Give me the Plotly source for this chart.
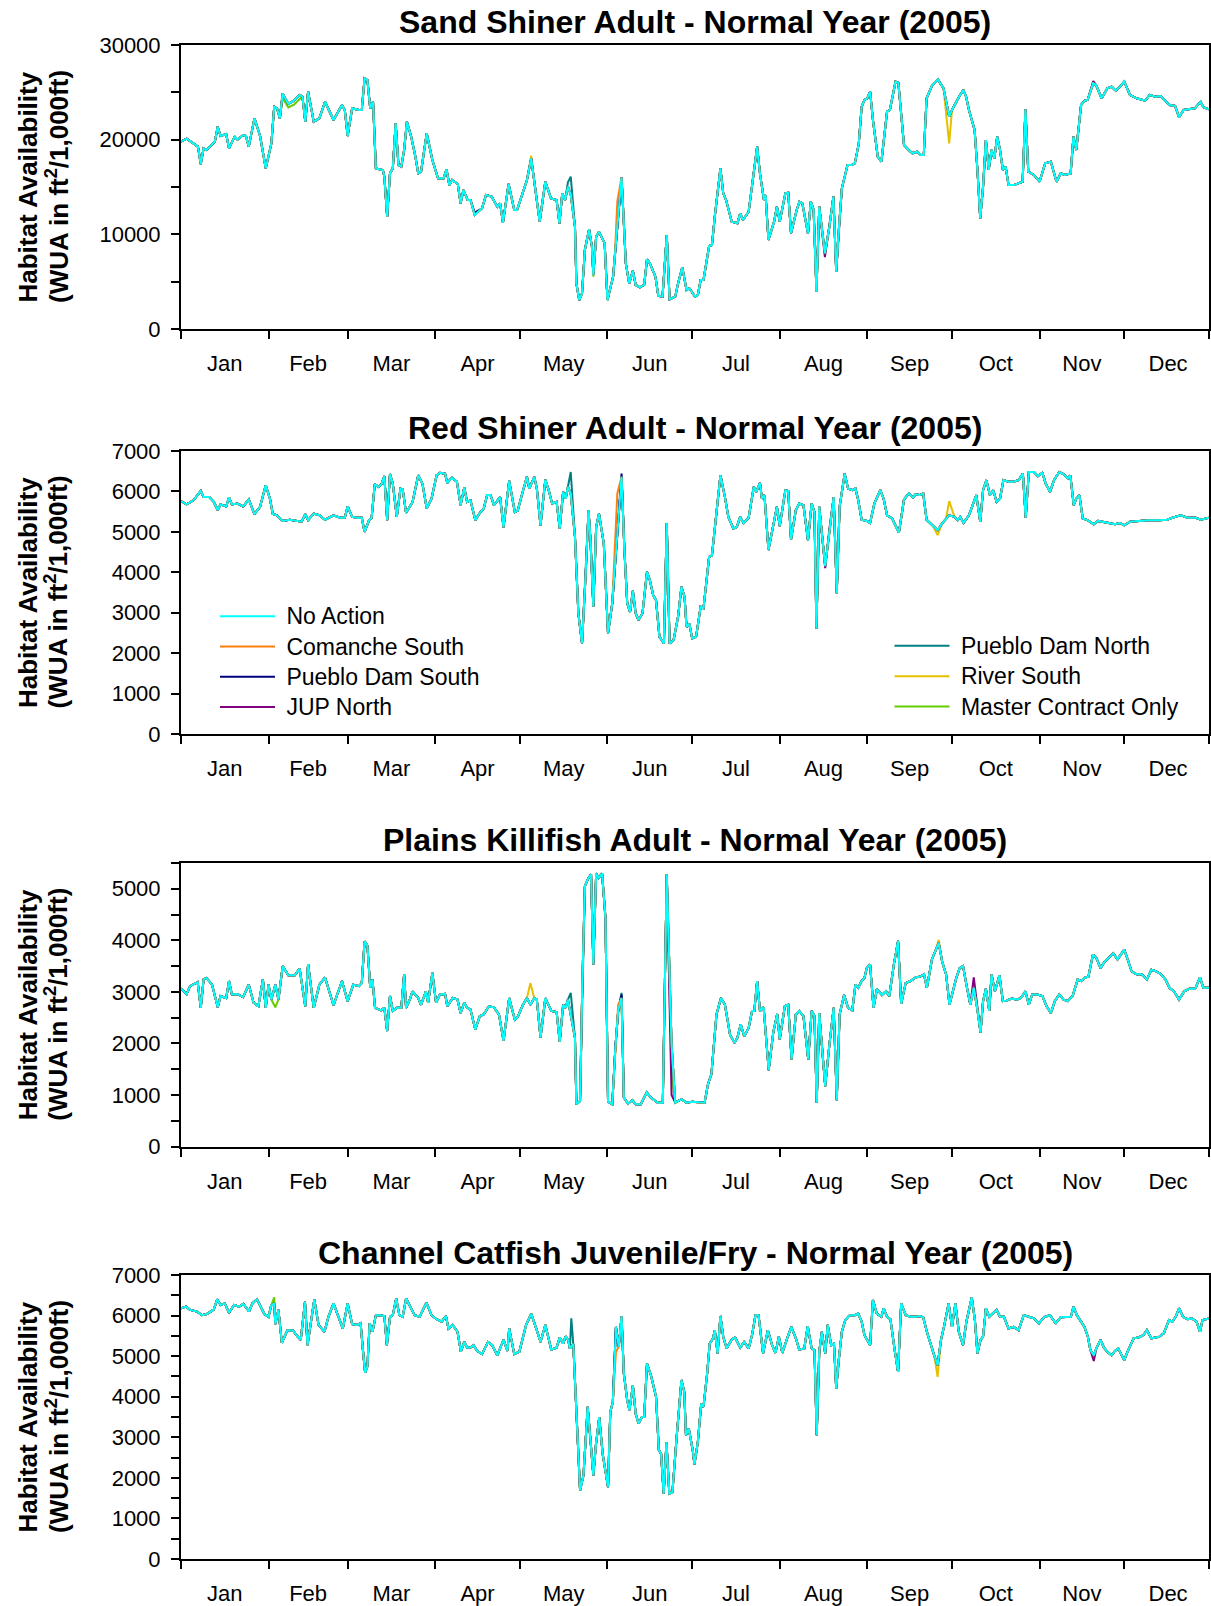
import plotly.graph_objects as go

# ---------------- categories / labels ----------------
MONTHS = ["Jan", "Feb", "Mar", "Apr", "May", "Jun", "Jul", "Aug", "Sep", "Oct", "Nov", "Dec"]
MONTH_START = [0, 31, 59, 90, 120, 151, 181, 212, 243, 273, 304, 334, 364]
MONTH_MID = [15.5, 45, 74.5, 105, 135.5, 166, 196.5, 227.5, 258, 288.5, 319, 349.5]

SERIES = ["Master Contract Only", "River South", "Pueblo Dam North", "JUP North",
          "Pueblo Dam South", "Comanche South", "No Action"]
COLORS = {"No Action": "#00FFFF", "Comanche South": "#FF7F0E", "Pueblo Dam South": "#000080",
          "JUP North": "#800080", "Pueblo Dam North": "#008080", "River South": "#E6C000",
          "Master Contract Only": "#66CC00"}
LEGEND_GROUP = {"No Action": ("legend", 1), "Comanche South": ("legend", 2),
                "Pueblo Dam South": ("legend", 3), "JUP North": ("legend", 4),
                "Pueblo Dam North": ("legend2", 5), "River South": ("legend2", 6),
                "Master Contract Only": ("legend2", 7)}

TITLES = ["Sand Shiner Adult - Normal Year (2005)", "Red Shiner Adult - Normal Year (2005)",
          "Plains Killifish Adult - Normal Year (2005)",
          "Channel Catfish Juvenile/Fry - Normal Year (2005)"]

# ---------------- Sand Shiner Adult (No Action) ----------------
sand_days = [0, 2, 6, 7, 8, 9, 12, 13, 14, 16, 17, 19, 20, 22, 23, 24, 26, 28, 30, 32, 33, 34, 35, 36, 38, 40, 42, 43, 44, 45, 47, 49, 51, 54, 57, 58, 59, 60.6, 63, 64, 65, 66, 67, 68, 69, 71.5, 72, 73, 74, 75, 76, 77, 78, 79, 80, 81.5, 83, 84, 85, 87, 89, 91, 93, 94, 95, 96, 98, 99, 100, 101.5, 102.5, 104, 106.6, 108, 110, 112, 113, 114, 116, 118, 119, 121, 122.5, 124, 125, 127, 129, 131, 133, 134, 135, 136, 137, 138, 139.5, 140, 141, 142, 143, 144.5, 145.5, 146, 147, 148, 150, 151, 153, 153.6, 156, 157.5, 158.7, 160, 161, 162.5, 164, 165, 166, 168, 169, 170.5, 172, 173, 175, 176, 177.5, 179, 180, 182, 183, 184, 185, 187, 188, 189, 191, 192, 193, 195, 197, 198, 199, 201, 202, 204, 205, 206.4, 207, 208, 210, 211, 212, 214, 215, 216, 218, 219, 220, 222, 223, 224, 225, 226, 228, 229.6, 231, 232, 233, 234, 236, 237.4, 238.6, 240, 241, 242, 243, 244, 245, 246.7, 248, 250, 251, 253, 254, 256, 257.7, 259, 260.7, 262, 263, 264, 266, 268, 270, 272, 273, 274.5, 275.5, 277, 278, 279, 281, 282, 283, 284, 285, 286, 287, 288, 289, 290, 291, 292, 293, 295, 296.6, 298, 299, 300, 302, 304, 306, 308, 310, 311.5, 313, 315, 316, 317, 318.7, 320, 321, 323, 324, 326, 328, 329.5, 331, 332.5, 334, 336, 338.4, 341.4, 343, 345, 346.8, 348.6, 350, 352, 353.4, 355, 357, 359, 361, 362, 364]
sand_vals = [19800, 20100, 19260, 17430, 19080, 18900, 19800, 21370, 20390, 20600, 19080, 20320, 20000, 20490, 20390, 19260, 22250, 20390, 16970, 19610, 23490, 23310, 22250, 24890, 23770, 24120, 24720, 24540, 21900, 25070, 21900, 22250, 24010, 22080, 23660, 23130, 20390, 23310, 23130, 23130, 26480, 26300, 23310, 24010, 16970, 16800, 16090, 11870, 16440, 16970, 21730, 17320, 17150, 18900, 21900, 20320, 18200, 16440, 16620, 20670, 17850, 15920, 15920, 16870, 15210, 15740, 15320, 13270, 14680, 13630, 13630, 12040, 12750, 14150, 13980, 12920, 13270, 11230, 15320, 12570, 12570, 14400, 15740, 18030, 15740, 11340, 15560, 13800, 13630, 11160, 14330, 13630, 15040, 14200, 10810, 4820, 3060, 3770, 8350, 10530, 8700, 5700, 9750, 10280, 9050, 3060, 5530, 7640, 16000, 6940, 4820, 6160, 4650, 4400, 4650, 7360, 6940, 5530, 3490, 3420, 9930, 3130, 3420, 4820, 6510, 4120, 4300, 3420, 3590, 5180, 5180, 8770, 8870, 11870, 16970, 14330, 13630, 11340, 11160, 12220, 11510, 12390, 14680, 19260, 16440, 13630, 14150, 9400, 11340, 12920, 11340, 14330, 14400, 10110, 12570, 13450, 13270, 10110, 13450, 12570, 3940, 12920, 7990, 10810, 13980, 6060, 10810, 14860, 17320, 17320, 17500, 19610, 23490, 24190, 24370, 25070, 22080, 18200, 17680, 22960, 23130, 26130, 26020, 19440, 18910, 18560, 18730, 18380, 18380, 24370, 25770, 26370, 25420, 22430, 23130, 24010, 24540, 25250, 24540, 23130, 21020, 16800, 11690, 15040, 19960, 16800, 18910, 18030, 20320, 18910, 16800, 17150, 15210, 15210, 15390, 15560, 23200, 16620, 16270, 15560, 17500, 17680, 15560, 16440, 16270, 16440, 20320, 18910, 23660, 24120, 24190, 25950, 25770, 24370, 25420, 25600, 25180, 25600, 26130, 24720, 24370, 24120, 24720, 24540, 24610, 24010, 23660, 23560, 22360, 23130, 23200, 23310, 24010, 23420, 23200]
sand_alt = {
    "Pueblo Dam North": {137: 15500, 138: 16090},
    "River South": {124: 18300, 272: 19610},
    "Comanche South": {154.5: 13500},
    "Master Contract Only": {36: 24400, 38: 23400, 40: 23700, 42: 24300, 146: 5530},
    "JUP North": {228: 7600, 323: 26200},
    "Pueblo Dam South": {104: 12300, 225: 4300},
}

# ---------------- Red Shiner Adult (No Action) ----------------
red_days = [0, 2, 4.4, 7, 8, 10, 11.6, 13, 14, 16, 17, 18, 20, 22, 24, 26, 28, 30, 31.5, 32.5, 34, 36, 38.5, 41.5, 42.7, 44, 45, 47, 49, 51, 54, 56.4, 58, 59, 60.6, 62.4, 64, 65, 66.6, 67.5, 68.6, 70, 71, 72, 73, 74, 75, 76.4, 77.7, 78.5, 79.7, 82, 84, 85.5, 87, 88.7, 90.5, 91.7, 93.5, 94.3, 95.9, 97.7, 99, 100.3, 101.3, 102.5, 104.2, 106, 107.2, 108.4, 109.6, 110.8, 113, 114.2, 116.2, 118.2, 119.2, 121, 122.5, 123.3, 125.1, 126, 127.3, 129, 130.2, 131.4, 133, 134.1, 135.3, 136.2, 137, 138, 139.5, 140.7, 142, 143.3, 144.3, 145, 146, 147, 148, 149.7, 151.2, 152.7, 156, 157, 158, 159, 160, 161, 162, 163.4, 165, 166, 167.2, 168.2, 169.4, 171, 172, 173, 174.4, 176, 177.2, 178.3, 179, 180, 181, 182.4, 184, 185, 187, 188, 189.6, 191, 192.6, 193.8, 195.6, 196.8, 198, 199.2, 201, 202.8, 203.7, 205, 205.7, 206.6, 208, 209.7, 211, 212, 214, 215, 216, 217.7, 218.9, 220.4, 222, 223.3, 224.3, 225, 226, 228.1, 229.6, 231.1, 232.2, 233.2, 235, 236.2, 237.7, 238.8, 239.8, 241, 242.8, 244, 245.5, 247.6, 248.8, 250, 251.8, 253, 254.2, 256, 257.7, 259.2, 260.1, 261.6, 262.8, 264, 266.1, 267.9, 269.5, 270.9, 272, 273.9, 275, 275.9, 277.1, 279, 280.4, 281.6, 283, 284, 285.2, 286.4, 287.6, 288.8, 290, 291.2, 293, 294.8, 296.6, 298.1, 299.1, 300.2, 302, 303.4, 305, 306.2, 307.7, 309.2, 311, 312.5, 314, 314.9, 316.1, 317, 318.1, 319.3, 321, 323.2, 324.7, 326.5, 328.3, 330.7, 332.4, 334, 336, 339, 342.6, 346.2, 349.2, 351, 354, 356.4, 359.3, 361.1, 364]
red_vals = [5760, 5680, 5780, 6010, 5860, 5860, 5740, 5540, 5680, 5630, 5850, 5680, 5700, 5630, 5800, 5440, 5620, 6150, 5820, 5440, 5410, 5270, 5300, 5270, 5250, 5440, 5290, 5450, 5410, 5300, 5410, 5350, 5350, 5630, 5370, 5350, 5350, 5000, 5290, 5350, 6180, 6110, 6180, 6380, 5290, 6430, 6190, 5370, 6070, 6050, 5470, 5740, 6400, 6190, 5580, 5820, 6400, 6460, 6440, 6210, 6340, 6240, 5660, 6100, 5740, 5780, 5290, 5490, 5580, 5910, 5910, 5660, 5860, 5110, 6260, 5490, 5520, 5990, 6360, 6070, 6360, 6070, 5160, 6290, 6030, 5700, 5740, 5080, 5990, 5820, 6110, 5950, 4880, 2980, 2240, 3970, 5540, 4790, 3150, 5120, 5450, 4710, 2490, 3230, 6360, 4550, 3230, 3020, 3540, 2980, 2820, 2980, 4010, 3810, 3430, 3310, 2410, 2240, 5220, 2240, 2320, 2900, 3640, 3390, 2650, 2730, 2360, 2410, 3150, 3110, 4380, 4420, 5490, 6400, 5860, 5370, 5080, 5120, 5370, 5210, 5350, 6110, 5990, 6210, 5820, 5910, 4550, 5210, 5620, 5140, 6030, 6010, 4810, 5540, 5700, 5660, 4790, 5700, 5490, 2610, 5620, 4150, 5080, 5860, 3480, 5620, 6440, 6070, 6030, 6070, 5780, 5300, 5270, 5220, 5700, 6030, 5820, 5410, 5330, 5160, 4980, 5800, 5950, 5850, 5930, 5910, 5950, 5300, 5160, 5040, 5210, 5330, 5410, 5370, 5290, 5370, 5220, 5410, 5700, 5910, 5250, 6030, 6280, 5910, 6030, 5740, 5820, 6280, 6240, 6240, 6280, 6440, 5350, 6480, 6480, 6380, 6460, 6190, 5990, 6290, 6480, 6430, 6320, 6400, 5660, 5820, 5910, 5330, 5290, 5190, 5270, 5250, 5220, 5190, 5220, 5160, 5250, 5270, 5290, 5290, 5300, 5350, 5410, 5350, 5350, 5300, 5350]
red_alt = {
    "Pueblo Dam North": {138: 6480},
    "Comanche South": {154.5: 5950},
    "River South": {267.9: 4920, 272: 5760},
    "JUP North": {228.1: 4100},
    "Pueblo Dam South": {156: 6440, 224.3: 5500},
    "Master Contract Only": {},
}

# ---------------- Plains Killifish Adult (No Action) ----------------
kill_days = [0, 2, 3.2, 5.9, 7, 8, 9, 11, 13, 14, 16, 17, 18, 20, 22, 24, 25.7, 27.4, 29, 30, 31, 32, 33.4, 34.5, 36, 38, 40.3, 42, 44, 45, 47, 49, 51, 54, 57, 59, 61, 63, 64, 65, 66, 67, 67.8, 68.7, 70.8, 72, 73, 74, 75, 76.4, 78, 79, 79.7, 81, 82, 84, 85, 86.7, 87.5, 89, 90.3, 91.7, 93.5, 94.3, 96.2, 97.9, 99, 100.3, 101.3, 102.5, 104.2, 105.8, 107.2, 109, 110.8, 112.6, 114.2, 116.2, 118.2, 119.2, 121, 122.5, 123.7, 125.1, 126, 127.3, 129, 131.1, 133, 134.1, 135.3, 136.2, 137, 139.5, 140, 141.3, 142.1, 143, 144.3, 145.2, 146, 147, 147.9, 149.1, 150.3, 151.2, 152.7, 153.8, 154.8, 156, 156.8, 158.3, 159.8, 161, 162.8, 164.9, 166.4, 168.8, 170.6, 172, 173.7, 175, 177.2, 179, 181, 183.6, 185.4, 186.6, 187.8, 189.6, 191.2, 192.6, 194.4, 196, 197, 198.2, 199.4, 201, 202.2, 203, 204, 205, 206.3, 208.1, 209.7, 211.1, 212, 213.8, 215, 216.2, 217.7, 218.9, 220.4, 222.1, 223.3, 224.3, 225.1, 226, 228.1, 229.6, 231.1, 232.2, 233.2, 234.8, 236.2, 237.7, 238.8, 239.8, 241, 242, 242.8, 244, 245.2, 246.4, 248.2, 249.6, 250.8, 252.4, 253.9, 255, 256.6, 258.3, 260.1, 261.9, 263.1, 264.1, 265.9, 267.3, 268.3, 269.5, 270.9, 272.1, 273.3, 274.5, 275.7, 276.9, 278.1, 279.5, 280.7, 281.9, 283.1, 284, 285, 286.2, 287, 288.2, 289.8, 291, 292.2, 294.2, 296, 297.4, 299, 300.2, 301.4, 303.2, 305, 306.5, 308, 309.4, 311, 312.5, 314, 315.7, 317.5, 318.7, 319.9, 321.3, 322.9, 324.1, 325.6, 327.1, 328.5, 330.1, 331.6, 334, 335.2, 336.6, 338.4, 340.2, 342, 343.6, 345.2, 346.8, 348.6, 350, 351.6, 353.4, 355.2, 357, 359.1, 360.8, 362, 364]
kill_vals = [3065, 2960, 3110, 3190, 2690, 3240, 3270, 3140, 2700, 2920, 2880, 3210, 2950, 2960, 2900, 3140, 2790, 2720, 3240, 2690, 3140, 2850, 3140, 2850, 3500, 3320, 3320, 3450, 2720, 3540, 2690, 3140, 3280, 2740, 3210, 2820, 3140, 3110, 3170, 3980, 3900, 3080, 3240, 2690, 2640, 2690, 2240, 2920, 2630, 2690, 2690, 3340, 2690, 2850, 3010, 2880, 2750, 3010, 2790, 3370, 2790, 2950, 2960, 2720, 2880, 2850, 2590, 2790, 2690, 2660, 2270, 2530, 2560, 2720, 2700, 2560, 2050, 2880, 2460, 2510, 2740, 2880, 2750, 2880, 2850, 2110, 2880, 2630, 2610, 2030, 2750, 2690, 2850, 2110, 820, 880, 3140, 5050, 5210, 5280, 3530, 5300, 5210, 5300, 4430, 870, 820, 1920, 2630, 2880, 950, 830, 900, 820, 820, 1050, 950, 850, 850, 5280, 1990, 850, 920, 850, 870, 850, 850, 1210, 1400, 2560, 2880, 2750, 2170, 2010, 2110, 2370, 2140, 2300, 2630, 2630, 3210, 2630, 2700, 1480, 2210, 2570, 2080, 2720, 2750, 1690, 2560, 2630, 2530, 1690, 2630, 2530, 850, 2590, 1170, 1980, 2690, 900, 2560, 2940, 2690, 2640, 3140, 3080, 3210, 3270, 3460, 3530, 2690, 3050, 2940, 3010, 2920, 3530, 3990, 2770, 3170, 3210, 3280, 3300, 3340, 3080, 3630, 3820, 3950, 3590, 3340, 2750, 3010, 3270, 3460, 3500, 3140, 2750, 3080, 2690, 2210, 2820, 3060, 2630, 3340, 3010, 3320, 2820, 2830, 2870, 2850, 2880, 3010, 2750, 2950, 2950, 2920, 2720, 2590, 2820, 2950, 2850, 2820, 2920, 3240, 3210, 3270, 3300, 3720, 3660, 3460, 3590, 3660, 3750, 3630, 3820, 3630, 3400, 3340, 3340, 3240, 3430, 3400, 3350, 3240, 3080, 3010, 2850, 3010, 3060, 3060, 3280, 3080, 3080]
kill_alt = {
    "River South": {123.7: 3170, 268.3: 4010},
    "Pueblo Dam North": {138: 2980, 156: 2980},
    "JUP North": {280.7: 3280, 173.7: 1000},
    "Master Contract Only": {33.4: 2700, 146: 3530, 173.7: 1400},
    "Comanche South": {154.8: 2750},
    "Pueblo Dam South": {156: 2950},
}

# ---------------- Channel Catfish Juvenile/Fry (No Action) ----------------
cat_days = [0, 1.8, 3.2, 5.6, 7.4, 9.2, 11.6, 12.8, 14, 15.5, 17, 18.8, 20.6, 22.1, 24.1, 25.3, 26.9, 28.1, 29.5, 31, 31.9, 33, 33.4, 34.5, 35.7, 37.7, 39.7, 41.2, 42.4, 43.9, 44.8, 47.2, 48.7, 50.8, 52.2, 54, 55.5, 57.3, 59, 60.6, 62.4, 63.6, 64.4, 65.2, 66, 66.8, 67.8, 69, 70.4, 72, 72.9, 74, 75, 76.2, 77.3, 78.5, 79.7, 81.2, 82.7, 84.5, 86.9, 88.7, 90.5, 92.3, 93.8, 94.7, 96.2, 97.9, 99.1, 100.3, 101.3, 102.5, 103.6, 104.8, 106.6, 108.7, 110.2, 112, 114.2, 115.6, 116.2, 118, 119.8, 122.2, 124, 125.8, 127.3, 129, 131.1, 133, 134.1, 135.3, 136.2, 137.1, 137.7, 138.9, 140.1, 141.3, 142.5, 144, 144.9, 146, 146.9, 148.1, 149.3, 151.2, 152, 152.9, 154, 155, 156, 156.8, 158, 158.8, 160, 161, 162, 163.2, 164, 165, 166.4, 167.6, 168.2, 169.2, 170, 170.9, 171.9, 172.9, 174, 175.4, 176.6, 177.2, 178.2, 178.8, 179.8, 181.2, 181.8, 183, 184.2, 185, 186.3, 187.2, 188.4, 189, 190, 191, 192, 193.2, 195, 196.2, 198, 199.4, 201, 202.2, 203.4, 204.5, 206.1, 207.8, 209.3, 210.5, 211.7, 212.9, 214.5, 216.1, 217.7, 218.9, 220.7, 221.9, 223.3, 224.3, 225.1, 226, 226.9, 228.1, 229, 230.2, 231.2, 232, 232.9, 234, 235.2, 236.8, 238.6, 239.8, 241, 242, 243.4, 244, 245, 246.4, 248, 248.8, 250, 251.2, 252.7, 253.9, 255, 256.6, 258.3, 260.1, 261.6, 262.8, 264.1, 265.5, 266.7, 267.9, 269.1, 270.3, 271.8, 273, 274.2, 275.4, 276.9, 278.1, 279.3, 280, 281.1, 282, 283.1, 284, 285, 286.2, 287.4, 288.8, 290, 291.4, 293, 294.8, 296.6, 298.4, 300.2, 302, 303.8, 305.6, 307.7, 309.7, 311.5, 313.3, 315.1, 316, 317.2, 318.7, 319.9, 321.1, 322, 323.2, 324.1, 325.6, 326.8, 328, 329.5, 330.7, 331.9, 333.1, 334, 334.9, 336.1, 337.3, 339, 340.8, 342, 343.6, 345.2, 346.4, 348, 349.8, 351, 352.2, 353.4, 354.8, 356.4, 357.9, 359.6, 360.8, 361.7, 364]
cat_vals = [6180, 6220, 6140, 6100, 6010, 6040, 6150, 6400, 6260, 6300, 6070, 6260, 6220, 6290, 6100, 6300, 6400, 6220, 6040, 5970, 6240, 6300, 5790, 6140, 5330, 5640, 5630, 5490, 5400, 6340, 5270, 6400, 5770, 5600, 5970, 6300, 6010, 5680, 6300, 5790, 5770, 5810, 5160, 4590, 4750, 5810, 5600, 6010, 6010, 5990, 5270, 5970, 6010, 6420, 6010, 5970, 6420, 6220, 6010, 5970, 6320, 6010, 5910, 5850, 5990, 5680, 5770, 5600, 5110, 5350, 5210, 5210, 5270, 5130, 5050, 5350, 5270, 5020, 5400, 5130, 5680, 5050, 5110, 5770, 6040, 5680, 5350, 5770, 5160, 5210, 5460, 5310, 5490, 5400, 5190, 5300, 3420, 1690, 2060, 3750, 3010, 2060, 2800, 3500, 2590, 1770, 3620, 3870, 5720, 5230, 5990, 4570, 3910, 3670, 4280, 3580, 3340, 3500, 3500, 4820, 4530, 4120, 4000, 2680, 2590, 1610, 2880, 1610, 1650, 2920, 3910, 4410, 4120, 3050, 3210, 2680, 2330, 2880, 3830, 3750, 4570, 5310, 5440, 5640, 5070, 5990, 5480, 5190, 5410, 5460, 5210, 5350, 5190, 5520, 6010, 6010, 5070, 5640, 5270, 5080, 5480, 5080, 5410, 5720, 5440, 5160, 5190, 5740, 5190, 5150, 3050, 5110, 5600, 5070, 5770, 5270, 5310, 4200, 4900, 5600, 5890, 6010, 6010, 6050, 5850, 5520, 5350, 5270, 6380, 6040, 5970, 6180, 5970, 5910, 5150, 4610, 6300, 6010, 5970, 5970, 5990, 5960, 5600, 5270, 5020, 4780, 5400, 5770, 6300, 5720, 6300, 5600, 5270, 5850, 6220, 6450, 5890, 5070, 5400, 5480, 6180, 5970, 6050, 6140, 5970, 5970, 5680, 5720, 5640, 6010, 5970, 5930, 5810, 5960, 6010, 5810, 5960, 5970, 5970, 6220, 6010, 5850, 5720, 5480, 5150, 5020, 5190, 5400, 5210, 5110, 5020, 5130, 5190, 5020, 4900, 5070, 5270, 5440, 5460, 5520, 5640, 5440, 5460, 5480, 5560, 5890, 5850, 5970, 6180, 5970, 5910, 5930, 5850, 5600, 5890, 5930]
cat_alt = {
    "River South": {267.9: 4490},
    "Pueblo Dam North": {138.2: 5930},
    "Master Contract Only": {33: 6450},
    "Comanche South": {154: 5100},
    "JUP North": {323.2: 4880},
    "Pueblo Dam South": {},
}

PANELS = [
    (sand_days, sand_vals, sand_alt, [0, 30000], 10000, 5000),
    (red_days, red_vals, red_alt, [0, 7000], 1000, None),
    (kill_days, kill_vals, kill_alt, [0, 5500], 1000, 500),
    (cat_days, cat_vals, cat_alt, [0, 7000], 1000, 500),
]

# ---------------- layout geometry (pixels) ----------------
W, H = 1211, 1606
X0, X1 = 181, 1209
PANEL_PX = [(45, 329), (451, 734), (863, 1146.5), (1275, 1559)]
TITLE_Y = [22.5, 428, 840, 1253]
FONT = "Liberation Sans, Arial, sans-serif"


def build(days, vals, override):
    d = dict(zip(days, vals))
    d.update(override)
    xs = sorted(d)
    return xs, [d[x] for x in xs]


fig = go.Figure()
layout = dict(width=W, height=H, margin=dict(l=0, r=0, t=0, b=0, autoexpand=False),
              paper_bgcolor="white", plot_bgcolor="white", showlegend=True,
              font=dict(family=FONT, color="black", size=22))
annotations = []

for i, (days, vals, alt, yr, dtick, minor_dt) in enumerate(PANELS):
    n = "" if i == 0 else str(i + 1)
    top, bot = PANEL_PX[i]
    for name in SERIES:
        xs, ys = build(days, vals, alt.get(name, {})) if name != "No Action" else (days, vals)
        lg, rank = LEGEND_GROUP[name]
        fig.add_trace(go.Scatter(
            x=xs, y=ys, mode="lines",
            name='<span style="font-size:23px">&nbsp;%s</span>' % name,
            line=dict(color=COLORS[name], width=2),
            xaxis="x" + n, yaxis="y" + n,
            showlegend=(i == 1), legend=lg, legendrank=rank,
            hoverinfo="skip"))
    layout["xaxis" + n] = dict(
        domain=[X0 / W, X1 / W], anchor="y" + n, range=[0, 364],
        tickmode="array", tickvals=MONTH_MID, ticktext=MONTHS, ticks="",
        ticklabelstandoff=14,
        minor=dict(tickmode="array", tickvals=MONTH_START, ticks="outside",
                   ticklen=8, tickwidth=2, tickcolor="black", showgrid=False),
        showline=True, linecolor="black", linewidth=2, mirror=True,
        showgrid=False, zeroline=False, tickfont=dict(size=22))
    ydict = dict(
        domain=[1 - bot / H, 1 - top / H], anchor="x" + n, range=yr,
        tickmode="linear", tick0=0, dtick=dtick, tickformat="d", ticks="outside", ticklen=8,
        tickwidth=2, tickcolor="black", ticklabelstandoff=6,
        showline=True, linecolor="black", linewidth=2, mirror=True,
        showgrid=False, zeroline=False, tickfont=dict(size=22))
    if minor_dt:
        ydict["minor"] = dict(dtick=minor_dt, ticks="outside", ticklen=8,
                              tickwidth=2, tickcolor="black", showgrid=False)
    layout["yaxis" + n] = ydict
    annotations.append(dict(text="<b>%s</b>" % TITLES[i], xref="paper", yref="paper",
                            x=(X0 + X1) / 2 / W, y=1 - TITLE_Y[i] / H, xanchor="center",
                            yanchor="middle", showarrow=False,
                            font=dict(size=32, family=FONT)))
    mid = (top + bot) / 2
    annotations.append(dict(text="<b>Habitat Availability</b>", xref="paper", yref="paper",
                            x=27.5 / W, y=1 - mid / H, xanchor="center", yanchor="middle",
                            textangle=-90, showarrow=False, font=dict(size=26, family=FONT)))
    annotations.append(dict(text="<b>(WUA in ft<sup>2</sup>/1,000ft)</b>", xref="paper",
                            yref="paper", x=57 / W, y=1 - mid / H, xanchor="center",
                            yanchor="middle", textangle=-90, showarrow=False,
                            font=dict(size=26, family=FONT)))

layout["annotations"] = annotations
layout["legend"] = dict(x=215 / W, y=1 - 596 / H, xanchor="left", yanchor="top",
                        font=dict(size=21), bgcolor="rgba(0,0,0,0)", itemwidth=55,
                        tracegroupgap=0)
layout["legend2"] = dict(x=889.5 / W, y=1 - 625.7 / H, xanchor="left", yanchor="top",
                         font=dict(size=21), bgcolor="rgba(0,0,0,0)", itemwidth=55,
                         tracegroupgap=0)
fig.update_layout(**layout)

POST = ("var gd=document.getElementById('{plot_id}');"
        "gd.style.position='absolute';gd.style.left='0px';gd.style.top='0px';"
        "document.body.style.margin='0';document.body.style.overflow='hidden';"
        "document.documentElement.style.overflow='hidden';")
fig.write_html("out.html", post_script=POST, config={"displayModeBar": False})
